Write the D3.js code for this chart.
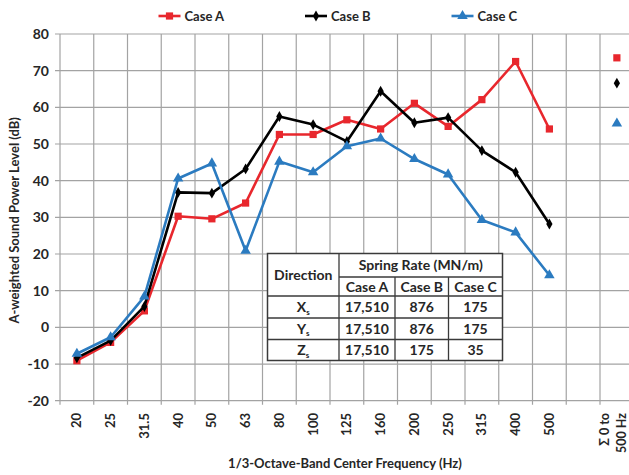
<!DOCTYPE html>
<html>
<head>
<meta charset="utf-8">
<script src="https://cdn.jsdelivr.net/npm/d3@7"></script>
<style>
  html, body { margin: 0; padding: 0; background: #fff; }
  svg { display: block; font-family: Lato, "Open Sans", sans-serif; }
</style>
</head>
<body>
<svg id="chart" width="629" height="475"></svg>
<script>
// ---- data ----
const categories = ["20","25","31.5","40","50","63","80","100","125","160","200","250","315","400","500","gap","total"];
const bandLabels = ["20","25","31.5","40","50","63","80","100","125","160","200","250","315","400","500"];
const totalLabel = ["Σ 0 to", "500 Hz"];
const seriesNames = ["Case A", "Case B", "Case C"];
const caseA = [-9.1, -4.1, 4.5, 30.3, 29.6, 33.9, 52.6, 52.6, 56.6, 54.1, 61.1, 54.8, 62.1, 72.5, 54.1];
const caseB = [-8.3, -3.6, 5.7, 36.8, 36.6, 43.2, 57.5, 55.3, 50.7, 64.4, 55.8, 57.2, 48.2, 42.3, 28.2];
const caseC = [-7.2, -2.7, 8.4, 40.6, 44.7, 20.9, 45.2, 42.3, 49.4, 51.5, 45.9, 41.7, 29.3, 25.9, 14.2];
const totals = [73.5, 66.6, 55.6];
const yTicks = [-20, -10, 0, 10, 20, 30, 40, 50, 60, 70, 80];
const tableHeader = ["Direction", "Spring Rate (MN/m)"];
const tableCases = ["Case A", "Case B", "Case C"];
const tableDirections = ["X", "Y", "Z"];
const tableRows = [["17,510", "876", "175"], ["17,510", "876", "175"], ["17,510", "175", "35"]];

(function () {
// ---- setup ----
const svg = d3.select("#chart");
const colors = ["#e8272d", "#000000", "#2b7bc0"];
const symbols = [d3.symbolSquare, d3.symbolDiamond, d3.symbolTriangle];
const symSizes = [52, 34, 48];
const textColor = "#262626";
const gridColor = "#a3a3a3";

const pL = 60, pR = 633.75, pT = 34, pB = 400.7;
const x = d3.scaleBand().domain(categories).range([pL, pR]).padding(0);
const y = d3.scaleLinear().domain([-20, 80]).range([pB, pT]);
const cx = c => x(c) + x.bandwidth() / 2;

// grid
const g = svg.append("g");
g.selectAll("line.h").data(yTicks).join("line")
  .attr("x1", pL - 5).attr("x2", pR)
  .attr("y1", d => y(d)).attr("y2", d => y(d))
  .attr("stroke", gridColor).attr("stroke-width", 1.2);
const vlines = categories.map(c => x(c)).concat([pR]);
g.selectAll("line.v").data(vlines).join("line")
  .attr("x1", d => d).attr("x2", d => d)
  .attr("y1", pT).attr("y2", pB + 4)
  .attr("stroke", gridColor).attr("stroke-width", 1.2);

// y tick labels
svg.append("g").selectAll("text").data(yTicks).join("text")
  .attr("x", 49).attr("y", d => y(d)).attr("dy", "0.35em")
  .attr("text-anchor", "end").attr("font-size", 14).attr("font-weight", "bold")
  .attr("fill", textColor).text(d => d);

// x tick labels (rotated)
svg.append("g").selectAll("text").data(bandLabels).join("text")
  .attr("transform", d => `translate(${cx(d) + 4.5},413) rotate(-90)`)
  .attr("text-anchor", "end").attr("font-size", 13).attr("font-weight", "bold")
  .attr("fill", textColor).text(d => d);
svg.append("g").selectAll("text").data(totalLabel).join("text")
  .attr("transform", (d, i) => `translate(${cx("total") - 7.5 + i * 17},413) rotate(-90)`)
  .attr("text-anchor", "end").attr("font-size", 12.5).attr("font-weight", "bold")
  .attr("fill", textColor).text(d => d);

// axis titles
svg.append("text")
  .attr("transform", `translate(19,${(pT + pB) / 2 + 3}) rotate(-90)`)
  .attr("text-anchor", "middle").attr("font-size", 13).attr("font-weight", "bold")
  .attr("fill", textColor).text("A-weighted Sound Power Level (dB)");
svg.append("text")
  .attr("x", 345).attr("y", 468)
  .attr("text-anchor", "middle").attr("font-size", 13).attr("font-weight", "bold")
  .attr("fill", textColor).text("1/3-Octave-Band Center Frequency (Hz)");

// series
const allSeries = [caseA, caseB, caseC];
const line = d3.line().x((d, i) => cx(bandLabels[i])).y(d => y(d));
allSeries.forEach((vals, k) => {
  svg.append("path").datum(vals).attr("d", line)
    .attr("fill", "none").attr("stroke", colors[k]).attr("stroke-width", 2.6)
    .attr("stroke-linejoin", "round");
  svg.append("g").selectAll("path").data(vals).join("path")
    .attr("d", d3.symbol().type(symbols[k]).size(symSizes[k]))
    .attr("transform", (d, i) => `translate(${cx(bandLabels[i])},${y(d)})`)
    .attr("fill", colors[k]);
  svg.append("path")
    .attr("d", d3.symbol().type(symbols[k]).size(symSizes[k]))
    .attr("transform", `translate(${cx("total")},${y(totals[k])})`)
    .attr("fill", colors[k]);
});

// legend
const legendX = [158.5, 305, 451.5];
const legendY = 16;
seriesNames.forEach((name, k) => {
  const lg = svg.append("g");
  lg.append("line").attr("x1", legendX[k]).attr("x2", legendX[k] + 22)
    .attr("y1", legendY).attr("y2", legendY)
    .attr("stroke", colors[k]).attr("stroke-width", 2.6);
  lg.append("path").attr("d", d3.symbol().type(symbols[k]).size(symSizes[k]))
    .attr("transform", `translate(${legendX[k] + 11},${legendY})`).attr("fill", colors[k]);
  lg.append("text").attr("x", legendX[k] + 26).attr("y", legendY).attr("dy", "0.35em")
    .attr("font-size", 13).attr("font-weight", "bold").attr("fill", textColor).text(name);
});

// table
const tL = 267.5, tT = 253.5, cols = [267.5, 339, 395, 448.5, 502.5], rows = [253.5, 277, 296, 318, 339.5, 360.5];
const tg = svg.append("g");
tg.append("rect").attr("x", tL).attr("y", tT).attr("width", cols[4] - tL).attr("height", rows[5] - tT)
  .attr("fill", "#fff").attr("stroke", "#3a3a3a").attr("stroke-width", 1.5);
const tline = (x1, y1, x2, y2) => tg.append("line").attr("x1", x1).attr("y1", y1).attr("x2", x2).attr("y2", y2)
  .attr("stroke", "#3a3a3a").attr("stroke-width", 1.3);
tline(cols[1], rows[0], cols[1], rows[5]);
tline(cols[2], rows[1], cols[2], rows[5]);
tline(cols[3], rows[1], cols[3], rows[5]);
tline(cols[1], rows[1], cols[4], rows[1]);
[2, 3, 4].forEach(r => tline(cols[0], rows[r], cols[4], rows[r]));
const ttext = (tx, ty, s) => tg.append("text").attr("x", tx).attr("y", ty).attr("dy", "0.35em")
  .attr("text-anchor", "middle").attr("font-size", 14).attr("font-weight", "bold").attr("fill", textColor).text(s);
ttext((cols[0] + cols[1]) / 2, (rows[0] + rows[2]) / 2, tableHeader[0]);
ttext((cols[1] + cols[4]) / 2, (rows[0] + rows[1]) / 2, tableHeader[1]);
tableCases.forEach((c, i) => ttext((cols[i + 1] + cols[i + 2]) / 2, (rows[1] + rows[2]) / 2 + 1, c));
tableDirections.forEach((dname, r) => {
  const yy = (rows[r + 2] + rows[r + 3]) / 2;
  const t = tg.append("text").attr("x", (cols[0] + cols[1]) / 2).attr("y", yy).attr("dy", "0.35em")
    .attr("text-anchor", "middle").attr("font-size", 14).attr("font-weight", "bold").attr("fill", textColor);
  t.append("tspan").text(dname);
  t.append("tspan").attr("font-size", 8).attr("dy", "0.35em").text("s");
  tableRows[r].forEach((v, i) => ttext((cols[i + 1] + cols[i + 2]) / 2, yy, v));
});
})();
</script>
</body>
</html>
